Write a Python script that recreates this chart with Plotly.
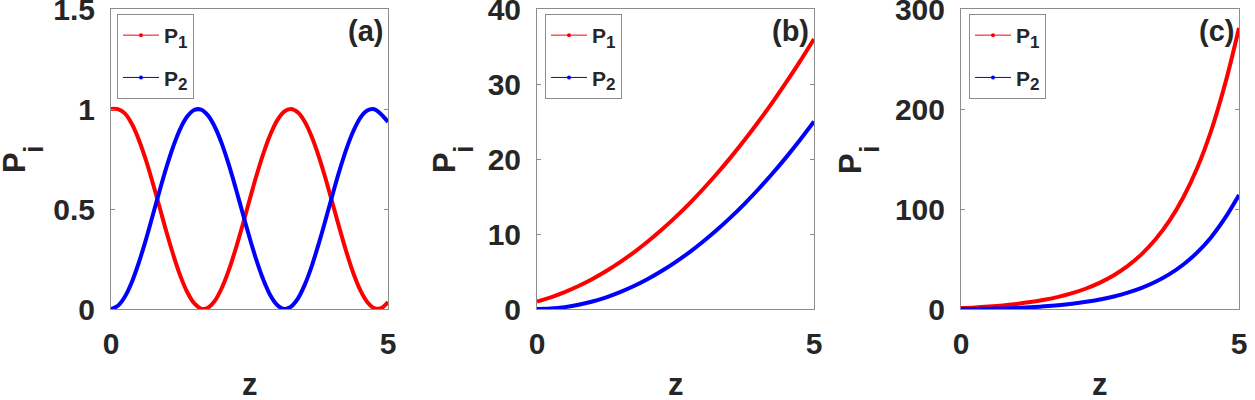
import plotly.graph_objects as go

# ---- data ----
z_a = [0.0, 0.125, 0.25, 0.375, 0.5, 0.625, 0.75, 0.875, 1.0, 1.125, 1.25,
       1.375, 1.5, 1.625, 1.75, 1.875, 2.0, 2.125, 2.25, 2.375, 2.5,
       2.625, 2.75, 2.875, 3.0, 3.125, 3.25, 3.375, 3.5, 3.625, 3.75,
       3.875, 4.0, 4.125, 4.25, 4.375, 4.5, 4.625, 4.75, 4.875, 5.0]

# panel (a)
P1_a = [1.000, 0.999, 0.978, 0.926, 0.848, 0.749, 0.634, 0.511, 0.386, 0.270, 0.167,
        0.085, 0.029, 0.002, 0.006, 0.041, 0.105, 0.193, 0.300, 0.419, 0.544,
        0.666, 0.777, 0.871, 0.943, 0.987, 1.000, 0.982, 0.935, 0.860, 0.763,
        0.650, 0.527, 0.403, 0.284, 0.179, 0.094, 0.035, 0.004, 0.004, 0.035]
P2_a = [0.000, 0.016, 0.061, 0.134, 0.230, 0.342, 0.465, 0.589, 0.708, 0.814, 0.901,
        0.962, 0.995, 0.997, 0.968, 0.910, 0.827, 0.723, 0.605, 0.481, 0.358,
        0.244, 0.146, 0.069, 0.020, 0.000, 0.012, 0.053, 0.123, 0.216, 0.327,
        0.448, 0.573, 0.693, 0.801, 0.890, 0.956, 0.992, 0.999, 0.974, 0.935]

z = [0.0, 0.25, 0.5, 0.75, 1.0, 1.25, 1.5, 1.75, 2.0, 2.25, 2.5,
     2.75, 3.0, 3.25, 3.5, 3.75, 4.0, 4.25, 4.5, 4.75, 5.0]

# panel (b)
P1_b = [1.00, 1.56, 2.25, 3.06, 4.00, 5.06, 6.25, 7.56, 9.00, 10.56, 12.25,
        14.06, 16.00, 18.06, 20.25, 22.56, 25.00, 27.56, 30.25, 33.06, 36.00]
P2_b = [0.00, 0.06, 0.25, 0.56, 1.00, 1.56, 2.25, 3.06, 4.00, 5.06, 6.25,
        7.56, 9.00, 10.56, 12.25, 14.06, 16.00, 18.06, 20.25, 22.56, 25.00]

# panel (c)
P1_c = [1.0, 1.6, 2.5, 3.6, 5.1, 6.9, 9.2, 12.1, 15.8, 20.5, 26.4,
        33.8, 43.1, 54.9, 69.7, 88.3, 111.7, 141.2, 178.4, 225.1, 281.0]
P2_c = [0.0, 0.06, 0.25, 0.59, 1.07, 1.74, 2.63, 3.78, 5.26, 7.15, 9.54,
        12.56, 16.38, 21.19, 27.25, 34.89, 44.51, 56.61, 71.86, 91.04, 114.0]

x_ticks = [0, 5]
y_ticks_a = [0, 0.5, 1, 1.5]
y_ticks_b = [0, 10, 20, 30, 40]
y_ticks_c = [0, 100, 200, 300]
panel_labels = ["(a)", "(b)", "(c)"]
series_names = ["P<sub><span style='font-size:17px'>1</span></sub>",
                "P<sub><span style='font-size:17px'>2</span></sub>"]

# ---- styling / layout ----
W, H = 1255, 400
FONT = "Liberation Sans"
TXT = "#262626"
AXC = "#8c8c8c"
RED, BLUE = "#ff0000", "#0000ff"

panels = [
    dict(x=z_a, p1=P1_a, p2=P2_a, yt=y_ticks_a, ymax=1.5, x0=111, x1=388, legx=117, px=14),
    dict(x=z, p1=P1_b, p2=P2_b, yt=y_ticks_b, ymax=40, x0=537, x1=814, legx=545, px=444),
    dict(x=z, p1=P1_c, p2=P2_c, yt=y_ticks_c, ymax=300, x0=961, x1=1239, legx=969, px=850),
]
Y_TOP, Y_BOT = 9, 309

fig = go.Figure()
layout = dict(
    width=W, height=H,
    margin=dict(l=0, r=0, t=0, b=0, autoexpand=False),
    paper_bgcolor="white", plot_bgcolor="white",
    showlegend=True,
)
annotations = []

for i, p in enumerate(panels, start=1):
    sfx = "" if i == 1 else str(i)
    xa, ya = "x" + sfx, "y" + sfx
    leg = "legend" + sfx
    # main curves
    fig.add_trace(go.Scatter(x=p["x"], y=p["p1"], mode="lines", line=dict(color=RED, width=4, shape="spline"),
                             xaxis=xa, yaxis=ya, showlegend=False, hoverinfo="skip"))
    fig.add_trace(go.Scatter(x=p["x"], y=p["p2"], mode="lines", line=dict(color=BLUE, width=4, shape="spline"),
                             xaxis=xa, yaxis=ya, showlegend=False, hoverinfo="skip"))
    # legend entries (thin line with dot marker, as in the reference legend)
    for nm, col in zip(series_names, [RED, BLUE]):
        fig.add_trace(go.Scatter(x=[None], y=[None], mode="lines+markers", name=nm,
                                 line=dict(color=col, width=1), marker=dict(color=col, size=4),
                                 xaxis=xa, yaxis=ya, legend=leg, legendgroup=leg + nm))
    axis_common = dict(
        showline=True, linecolor=AXC, linewidth=1, mirror="ticks",
        ticks="inside", ticklen=4, tickcolor=AXC, tickwidth=1,
        showgrid=False, zeroline=False, automargin=False,
        ticklabeloverflow="allow",
        tickfont=dict(family=FONT, size=30, color=TXT, weight="bold"),
    )
    layout["xaxis" + sfx] = dict(axis_common, domain=[p["x0"] / W, p["x1"] / W], range=[0, 5],
                                 tickvals=x_ticks, ticktext=[str(v) for v in x_ticks],
                                 anchor=ya, ticklabelstandoff=8)
    layout["yaxis" + sfx] = dict(axis_common, domain=[1 - Y_BOT / H, 1 - Y_TOP / H], range=[0, p["ymax"]],
                                 tickvals=p["yt"], ticktext=[f"{v:g}" for v in p["yt"]],
                                 anchor=xa, ticklabelstandoff=9)
    layout[leg] = dict(
        x=p["legx"] / W, y=1 - 14 / H, xanchor="left", yanchor="top",
        bgcolor="white", bordercolor=AXC, borderwidth=1,
        font=dict(family=FONT, size=21, color=TXT, weight="bold"),
        traceorder="grouped", tracegroupgap=12, itemwidth=36,
    )
    # panel label
    annotations.append(dict(text=panel_labels[i - 1], xref="paper", yref="paper",
                            x=(p["x1"] - 3) / W, y=1 - 31 / H, xanchor="right", yanchor="middle",
                            showarrow=False, font=dict(family=FONT, size=29, color=TXT, weight="bold")))
    # x label
    annotations.append(dict(text="z", xref="paper", yref="paper",
                            x=(p["x0"] + p["x1"]) / 2 / W, y=1 - 384 / H, xanchor="center", yanchor="middle",
                            showarrow=False, font=dict(family=FONT, size=31, color=TXT, weight="bold")))
    # y label P_i
    annotations.append(dict(text="P", xref="paper", yref="paper", textangle=-90,
                            x=p["px"] / W, y=1 - 163 / H, xanchor="center", yanchor="middle",
                            showarrow=False, font=dict(family=FONT, size=31, color=TXT, weight="bold")))
    annotations.append(dict(text="i", xref="paper", yref="paper", textangle=-90,
                            x=(p["px"] + 20) / W, y=1 - 149 / H, xanchor="center", yanchor="middle",
                            showarrow=False, font=dict(family=FONT, size=27, color=TXT, weight="bold")))

layout["annotations"] = annotations
fig.update_layout(**layout)
fig.write_html("out.html")
